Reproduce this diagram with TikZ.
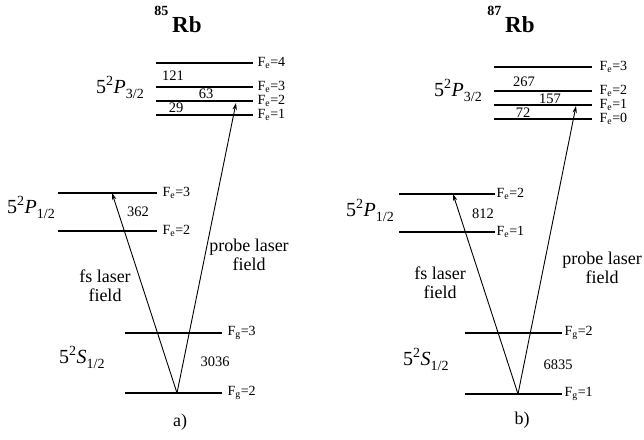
\documentclass[tikz,border=0pt]{standalone}
\usepackage{fontspec}
\setmainfont{Liberation Serif}
\usetikzlibrary{arrows.meta}
\tikzset{
  lev/.style={line width=1.3pt},
  flab/.style={anchor=west, inner sep=1pt, font=\fontsize{14}{14}\selectfont},
  num/.style={inner sep=0pt, font=\fontsize{14.5}{14.5}\selectfont},
  term/.style={anchor=base west, inner sep=0pt, font=\fontsize{20}{20}\selectfont},
  title/.style={anchor=base, inner sep=0pt, font=\fontsize{23}{23}\selectfont\bfseries},
  beam/.style={line width=0.9pt, -{Stealth[length=7pt,width=4.5pt]}},
  txt/.style={align=center, inner sep=0pt, font=\fontsize{18}{19}\selectfont},
}
\newcommand{\trm}[2]{5\textsuperscript{2}\textit{#1}\raisebox{-0.6ex}{\fontsize{14}{14}\selectfont #2}}
\newcommand{\iso}[1]{\raisebox{17pt}{\fontsize{14}{14}\selectfont #1}\,Rb}
\begin{document}
\begin{tikzpicture}[x=1pt,y=-1pt]
\useasboundingbox (0,0) rectangle (644,439);
% a) 85Rb
\node[title] (t85) at (178,32) {\iso{85}};
\foreach \y/\f in {63/4,87/3,101/2,115/1}
  \draw[lev] (156,\y) -- (253,\y) node[flab, xshift=3pt] (ap\f) {F\textsubscript{e}=\f};
\node[term] (aP3) at (96,93) {\trm{P}{3/2}};
\node[num] (a121) at (173,76) {121};
\node[num] (a63) at (206,94) {63};
\node[num] (a29) at (176,108) {29};
\foreach \y/\f in {193/3,231/2}
  \draw[lev] (58,\y) -- (157,\y) node[flab, xshift=4pt] (aq\f) {F\textsubscript{e}=\f};
\node[term] (aP1) at (7,213) {\trm{P}{1/2}};
\node[num] (a362) at (138,212) {362};
\foreach \y/\f in {333/3,393/2}
  \draw[lev] (125,\y) -- (222,\y) node[flab, xshift=4pt] (ag\f) {F\textsubscript{g}=\f};
\node[term] (aS) at (59,363) {\trm{S}{1/2}};
\node[num] (a3036) at (215,362) {3036};
\coordinate (ao) at (177,393);
\coordinate (afs) at (112,193);
\coordinate (apr) at (236,103);
\draw[beam] (ao) -- (afs);
\draw[beam] (ao) -- (apr);
\node[txt] (afsl) at (105,286) {fs laser\\field};
\node[txt] (aprl) at (249,255) {probe laser\\field};
\node[txt] (acap) at (180,422) {a)};
% b) 87Rb
\node[title] (t87) at (511,32) {\iso{87}};
\foreach \y/\f in {67/3,91/2,105/1,119/0}
  \draw[lev] (494,\y) -- (592,\y) node[flab, xshift=6pt] (bp\f) {F\textsubscript{e}=\f};
\node[term] (bP3) at (434,96) {\trm{P}{3/2}};
\node[num] (b267) at (524,82) {267};
\node[num] (b157) at (550,99) {157};
\node[num] (b72) at (523,113) {72};
\foreach \y/\f in {194/2,232/1}
  \draw[lev] (399,\y) -- (495,\y) node[flab] (bq\f) {F\textsubscript{e}=\f};
\node[term] (bP1) at (346,216) {\trm{P}{1/2}};
\node[num] (b812) at (483,214) {812};
\foreach \y/\f in {333/2,394/1}
  \draw[lev] (465,\y) -- (562,\y) node[flab, xshift=1pt] (bg\f) {F\textsubscript{g}=\f};
\node[term] (bS) at (403,365) {\trm{S}{1/2}};
\node[num] (b6835) at (558,365) {6835};
\coordinate (bo) at (518,394);
\coordinate (bfs) at (453,194);
\coordinate (bpr) at (576,106);
\draw[beam] (bo) -- (bfs);
\draw[beam] (bo) -- (bpr);
\node[txt] (bfsl) at (440,283) {fs laser\\field};
\node[txt] (bprl) at (602,268) {probe laser\\field};
\node[txt] (bcap) at (522,420) {b)};
\end{tikzpicture}
\end{document}
